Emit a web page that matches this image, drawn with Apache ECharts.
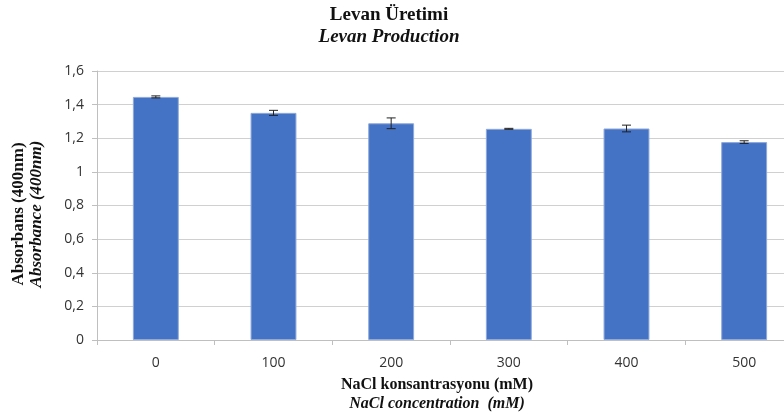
<!DOCTYPE html>
<html>
<head>
<meta charset="utf-8">
<script src="https://cdn.jsdelivr.net/npm/echarts@6/dist/echarts.min.js"></script>
<style>
  html, body { margin: 0; padding: 0; background: #fff; overflow: hidden; }
  /* plot area runs past the right edge of the window, so the canvas is wider */
  #chart { width: 810px; height: 417px; }
</style>
</head>
<body>
<div id="chart"></div>
<script>
// NaCl concentrations (mM)
const categories = ['0', '100', '200', '300', '400', '500'];
// Mean absorbance at 400 nm
const absorbance = [1.446, 1.351, 1.289, 1.256, 1.258, 1.177];
// Standard deviation for each mean
const errors = [0.006, 0.015, 0.032, 0.003, 0.020, 0.008];
// Value axis range
const yMin = 0, yMax = 1.6, yStep = 0.2;

const serif = '"Liberation Serif", "DejaVu Serif", serif';
const sans = '"Open Sans", "Liberation Sans", sans-serif';

const chart = echarts.init(document.getElementById('chart'), null, { renderer: 'canvas' });

const errorData = categories.map((c, i) => [i, absorbance[i], errors[i]]);

chart.setOption({
  animation: false,
  backgroundColor: '#ffffff',
  grid: { left: 97, top: 71, right: 7, height: 269, containLabel: false },
  xAxis: {
    type: 'category',
    data: categories,
    axisLine: { lineStyle: { color: '#bfbfbf', width: 1 } },
    axisTick: { show: true, length: 5, lineStyle: { color: '#bfbfbf' } },
    axisLabel: { fontFamily: sans, fontSize: 14, color: '#333', margin: 16 }
  },
  yAxis: {
    type: 'value',
    min: yMin, max: yMax, interval: yStep,
    axisLine: { show: true, lineStyle: { color: '#bfbfbf' } },
    axisTick: { show: true, length: 5, lineStyle: { color: '#bfbfbf' } },
    splitLine: { lineStyle: { color: '#d0d0d0', width: 1 } },
    axisLabel: {
      fontFamily: sans, fontSize: 14, color: '#333', margin: 13,
      formatter: v => String(+v.toFixed(1)).replace('.', ',')
    }
  },
  series: [
    {
      type: 'bar',
      data: absorbance,
      barWidth: '39%',
      itemStyle: { color: '#4472c4', borderColor: '#8ea9db', borderWidth: 1 }
    },
    {
      type: 'custom',
      data: errorData,
      z: 10,
      renderItem: (params, api) => {
        const idx = api.value(0), v = api.value(1), e = api.value(2);
        const top = api.coord([idx, v + e]);
        const bot = api.coord([idx, v - e]);
        const hw = 4.5;
        const style = { stroke: '#222', lineWidth: 1 };
        return {
          type: 'group',
          children: [
            { type: 'line', shape: { x1: top[0], y1: top[1], x2: bot[0], y2: bot[1] }, style },
            { type: 'line', shape: { x1: top[0] - hw, y1: top[1], x2: top[0] + hw, y2: top[1] }, style },
            { type: 'line', shape: { x1: bot[0] - hw, y1: bot[1], x2: bot[0] + hw, y2: bot[1] }, style }
          ]
        };
      }
    }
  ],
  graphic: [
    {
      type: 'text', x: 389, y: 15,
      style: { text: 'Levan Üretimi', font: 'bold 19px ' + serif, fill: '#111', align: 'center', verticalAlign: 'middle' }
    },
    {
      type: 'text', x: 389, y: 37,
      style: { text: 'Levan Production', font: 'italic bold 19px ' + serif, fill: '#111', align: 'center', verticalAlign: 'middle' }
    },
    {
      type: 'text', x: 19, y: 214, rotation: Math.PI / 2,
      style: { text: 'Absorbans (400nm)', font: 'bold 17px ' + serif, fill: '#111', align: 'center', verticalAlign: 'middle' }
    },
    {
      type: 'text', x: 37, y: 214, rotation: Math.PI / 2,
      style: { text: 'Absorbance (400nm)', font: 'italic bold 17px ' + serif, fill: '#111', align: 'center', verticalAlign: 'middle' }
    },
    {
      type: 'text', x: 437, y: 385,
      style: { text: 'NaCl konsantrasyonu (mM)', font: 'bold 16px ' + serif, fill: '#111', align: 'center', verticalAlign: 'middle' }
    },
    {
      type: 'text', x: 437, y: 404,
      style: { text: 'NaCl concentration  (mM)', font: 'italic bold 16px ' + serif, fill: '#111', align: 'center', verticalAlign: 'middle' }
    }
  ]
});
</script>
</body>
</html>
